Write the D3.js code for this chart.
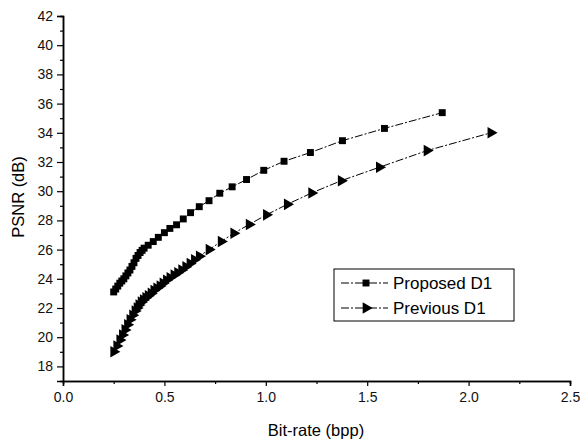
<!DOCTYPE html>
<html>
<head>
<meta charset="utf-8">
<script src="https://cdn.jsdelivr.net/npm/d3@7"></script>
<style>
  body { margin: 0; background: #fff; }
  svg { font-family: "Liberation Sans", Arial, sans-serif; }
</style>
</head>
<body>
<div id="chart"></div>
<script>
// Proposed D1
var propX = [0.25, 0.26, 0.27, 0.28, 0.29, 0.30, 0.31, 0.32, 0.33, 0.34, 0.35, 0.36, 0.37, 0.38, 0.39, 0.40, 0.42, 0.445, 0.47, 0.50, 0.527, 0.56, 0.593, 0.629, 0.672, 0.72, 0.773, 0.834, 0.905, 0.99, 1.09, 1.22, 1.378, 1.585, 1.87]
var propY = [23.1, 23.3, 23.5, 23.7, 23.85, 24.0, 24.2, 24.4, 24.6, 24.85, 25.1, 25.4, 25.6, 25.8, 25.95, 26.1, 26.3, 26.55, 26.84, 27.16, 27.45, 27.7, 28.1, 28.53, 28.94, 29.35, 29.86, 30.3, 30.8, 31.43, 32.05, 32.65, 33.46, 34.3, 35.38]

// Previous D1
var prevX = [0.25, 0.265, 0.28, 0.293, 0.305, 0.318, 0.33, 0.343, 0.355, 0.365, 0.374, 0.385, 0.396, 0.408, 0.42, 0.434, 0.448, 0.462, 0.478, 0.493, 0.51, 0.527, 0.547, 0.565, 0.585, 0.605, 0.626, 0.648, 0.672, 0.72, 0.78, 0.842, 0.918, 1.003, 1.106, 1.226, 1.372, 1.56, 1.795, 2.11]
var prevY = [19.0, 19.4, 19.8, 20.15, 20.5, 20.85, 21.2, 21.5, 21.8, 22.0, 22.2, 22.4, 22.55, 22.7, 22.84, 23.0, 23.2, 23.35, 23.5, 23.7, 23.9, 24.07, 24.25, 24.42, 24.6, 24.82, 25.05, 25.3, 25.55, 26.0, 26.55, 27.12, 27.72, 28.38, 29.1, 29.88, 30.72, 31.64, 32.78, 34.0]

var xTicks = [0.0, 0.5, 1.0, 1.5, 2.0, 2.5]
var yTicks = [18, 20, 22, 24, 26, 28, 30, 32, 34, 36, 38, 40, 42]
var seriesNames = ["Proposed D1", "Previous D1"]

var width = 580
var height = 441

var svg = d3.select("#chart")
  .append("svg")
  .attr("width", width)
  .attr("height", height)

var x = d3.scaleLinear().domain([0, 2.5]).range([63, 570])
var y = d3.scaleLinear().domain([17, 42]).range([381, 16])

// minor ticks
var xMinor = d3.range(0.25, 2.5, 0.5)
var yMinor = d3.range(19, 42, 2)

svg.append("g")
  .attr("transform", "translate(0,381)")
  .call(d3.axisBottom(x).tickValues(xMinor).tickSize(3).tickFormat(""))

svg.append("g")
  .attr("transform", "translate(63,0)")
  .call(d3.axisLeft(y).tickValues(yMinor).tickSize(3).tickFormat(""))

svg.append("g")
  .attr("transform", "translate(0,381)")
  .call(d3.axisBottom(x).tickValues(xTicks).tickFormat(d3.format(".1f")).tickSize(5).tickPadding(6))

svg.append("g")
  .attr("transform", "translate(63,0)")
  .call(d3.axisLeft(y).tickValues(yTicks).tickSize(6).tickPadding(4))

svg.selectAll(".domain").attr("stroke", "#000").attr("stroke-width", 1.5)
svg.selectAll(".tick line").attr("stroke", "#000").attr("stroke-width", 1.2)
svg.selectAll(".tick text").attr("font-size", 14).attr("fill", "#111")
  .attr("font-family", "'Liberation Sans', Arial, sans-serif")

// axis titles
svg.append("text")
  .attr("x", 316)
  .attr("y", 436)
  .attr("text-anchor", "middle")
  .attr("font-size", 16.5)
  .text("Bit-rate (bpp)")

svg.append("text")
  .attr("transform", "translate(24,197) rotate(-90)")
  .attr("text-anchor", "middle")
  .attr("font-size", 16.5)
  .text("PSNR (dB)")

var propData = propX.map(function (d, i) { return [d, propY[i]] })
var prevData = prevX.map(function (d, i) { return [d, prevY[i]] })

var line = d3.line()
  .x(function (d) { return x(d[0]) })
  .y(function (d) { return y(d[1]) })

function drawSeries(data, symbol, size, rotate) {
  svg.append("path")
    .datum(data)
    .attr("fill", "none")
    .attr("stroke", "#000")
    .attr("stroke-width", 1)
    .attr("stroke-dasharray", "8,2,2,2")
    .attr("d", line)

  svg.append("g")
    .selectAll("path")
    .data(data)
    .enter()
    .append("path")
    .attr("d", d3.symbol().type(symbol).size(size))
    .attr("transform", function (d) {
      return "translate(" + x(d[0]) + "," + y(d[1]) + ") rotate(" + rotate + ")"
    })
    .attr("fill", "#000")
}

drawSeries(propData, d3.symbolSquare, 48, 0)
drawSeries(prevData, d3.symbolTriangle, 58, 90)

// legend
var legend = svg.append("g")
legend.append("rect")
  .attr("x", 334)
  .attr("y", 269)
  .attr("width", 180)
  .attr("height", 52)
  .attr("fill", "#fff")
  .attr("stroke", "#000")
  .attr("stroke-width", 1)

var legendSymbols = [[d3.symbolSquare, 48, 0], [d3.symbolTriangle, 58, 90]]
seriesNames.forEach(function (name, i) {
  var ly = 283 + i * 25
  legend.append("line")
    .attr("x1", 341).attr("x2", 388)
    .attr("y1", ly).attr("y2", ly)
    .attr("stroke", "#000")
    .attr("stroke-width", 1)
    .attr("stroke-dasharray", "8,2,2,2")
  legend.append("path")
    .attr("d", d3.symbol().type(legendSymbols[i][0]).size(legendSymbols[i][1]))
    .attr("transform", "translate(366," + ly + ") rotate(" + legendSymbols[i][2] + ")")
    .attr("fill", "#000")
  legend.append("text")
    .attr("x", 393)
    .attr("y", ly + 6)
    .attr("font-size", 17)
    .text(name)
})
</script>
</body>
</html>
